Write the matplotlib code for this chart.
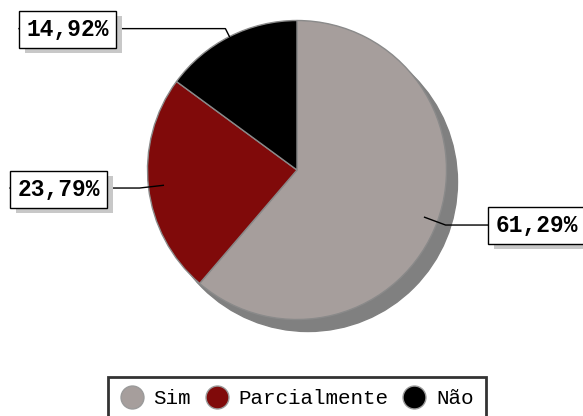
import numpy as np
import matplotlib
matplotlib.use('Agg')
import matplotlib.pyplot as plt
from matplotlib.patches import Circle, Rectangle
from matplotlib.lines import Line2D

categories = ['Sim', 'Parcialmente', 'Não']
values = [61.29, 23.79, 14.92]
labels = ['61,29%', '23,79%', '14,92%']
colors = ['#a69e9c', '#800a0a', '#000000']

W, H = 583, 416
fig = plt.figure(figsize=(W / 100, H / 100), dpi=100)
ax = fig.add_axes([0, 0, 1, 1])

# pixel coords, y measured from the top
cx, cy, R = 297, 170, 149.5

def py(y):
    return H - y

# shadow
ax.add_patch(Circle((cx + 11, py(cy + 12)), R, color='#808080', zorder=1))

wedges, _ = ax.pie(values, colors=colors, startangle=90, counterclock=False,
                   center=(cx, py(cy)), radius=R,
                   wedgeprops=dict(edgecolor='#8a8a8a', linewidth=1, zorder=2))
for w in wedges:
    w.set_zorder(2)

# label boxes: (left, top) in pixels, width, height
boxes = [(488, 207), (10, 171), (19, 11)]
bw, bh = 97, 37
inner = [0.91, 0.90, 1.0]
for w, lab, (bx, by), fr in zip(wedges, labels, boxes, inner):
    ang = np.deg2rad((w.theta1 + w.theta2) / 2)
    ex, ey = cx + fr * R * np.cos(ang), cy - fr * R * np.sin(ang)
    kx, ky = cx + 1.06 * R * np.cos(ang), cy - 1.06 * R * np.sin(ang)
    side = bx if kx > bx else bx + bw
    ax.plot([ex, kx, side], [py(ey), py(ky), py(ky)], color='black', lw=1, zorder=3)
    ax.add_patch(Rectangle((bx + 6, py(by + bh + 5)), bw, bh, fc='#c8c8c8', ec='none', zorder=3))
    ax.add_patch(Rectangle((bx, py(by + bh)), bw, bh, fc='white', ec='black', lw=1, zorder=4))
    ax.text(bx + bw / 2, py(by + bh / 2), lab, ha='center', va='center',
            family='Liberation Mono', weight='bold', fontsize=16.5, zorder=5)

ax.set_xlim(0, W)
ax.set_ylim(0, H)
ax.set_aspect('auto')
ax.axis('off')

handles = [Line2D([], [], ls='none', marker='o', markersize=16.5, markerfacecolor=c,
                  markeredgecolor='#9a9a9a', markeredgewidth=1) for c in colors]
leg = fig.legend(handles, categories, loc='upper center', bbox_to_anchor=(297 / W, 1 - 377 / H),
                 ncol=3, frameon=True, fancybox=False, edgecolor='black',
                 prop=dict(family='Liberation Mono', size=15), handlelength=1.1,
                 handletextpad=0.5, columnspacing=0.68, borderpad=0.58, borderaxespad=0)
leg.get_frame().set_linewidth(2)

fig.savefig('out.png', dpi=100)
